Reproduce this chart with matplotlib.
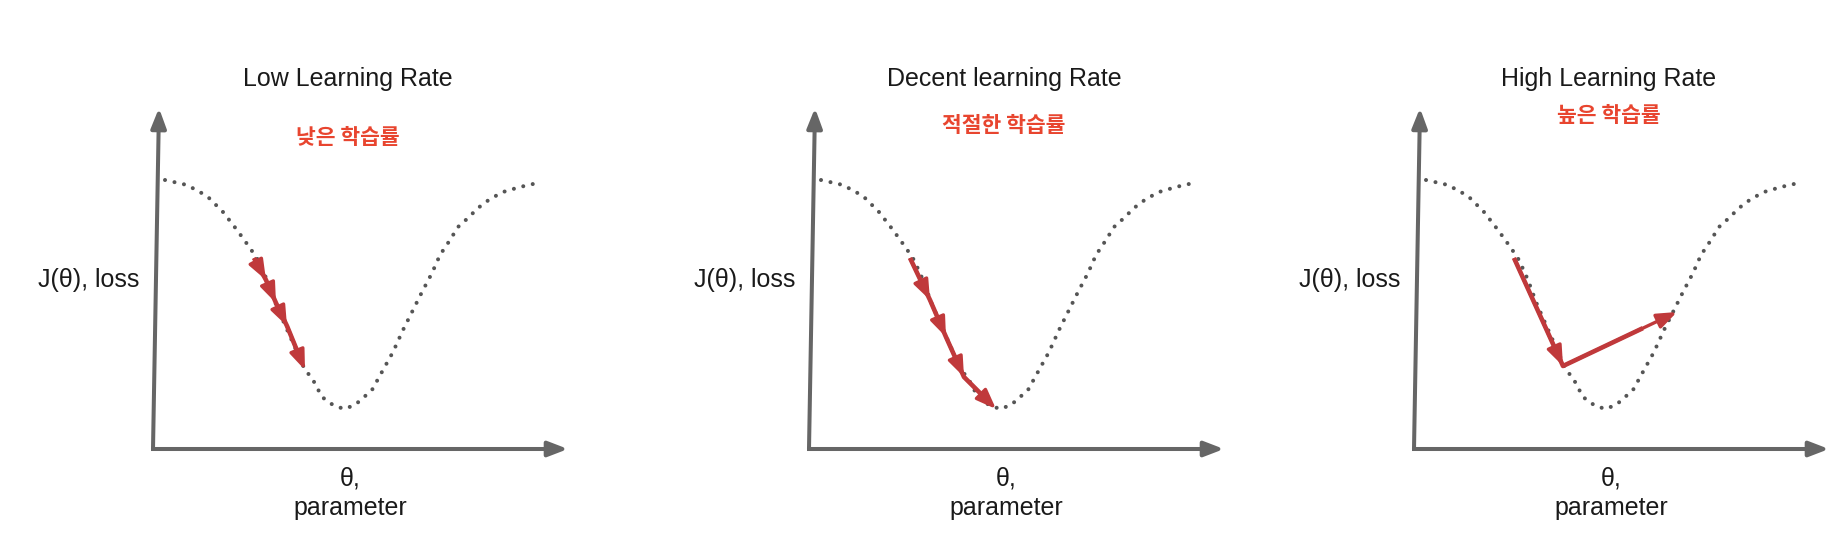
import matplotlib.pyplot as plt
from matplotlib.patches import FancyArrowPatch

# shape of the loss curve, same in every panel (theta right, loss up, from the axis origin)
curve_theta = [12, 34, 54, 70, 84, 97, 105, 114, 122, 132, 152, 159, 169, 180, 191, 202,
               219, 230, 240, 250, 259, 269, 279, 287, 297, 305, 315, 325, 337, 350, 367, 380]
curve_loss = [269, 264, 253, 237, 219, 201, 189, 169, 147, 124, 79, 71, 52, 44, 40, 44,
              59, 79, 97, 119, 137, 157, 176, 194, 209, 222, 231, 241, 250, 257, 262, 265]

titles = ['Low Learning Rate', 'Decent learning Rate', 'High Learning Rate']
titles_ko = ['낮은 학습률', '적절한 학습률', '높은 학습률']
ylabel = 'J(θ), loss'
xlabel = 'θ,\nparameter'

# gradient descent steps
low_theta = [101, 113, 123, 134, 152]
low_loss = [191, 169, 146, 123, 79]
decent_theta = [101, 121, 137, 155, 187]
decent_loss = [191, 149, 112, 72, 40]
high_theta = [100, 149, 263]
high_loss = [191, 83, 137]
steps = [(low_theta, low_loss), (decent_theta, decent_loss), (high_theta, high_loss)]

# layout (pixels)
origin_x = [153, 809, 1414]
origin_y = 101
ko_y = [412, 425, 434]

axis_col = '#666666'
dot_col = '#555555'
red = '#c0393b'
ko_red = '#e8452f'

fig = plt.figure(figsize=(18.46, 5.5), dpi=100)
ax = fig.add_axes([0, 0, 1, 1])
ax.set_xlim(0, 1846)
ax.set_ylim(0, 550)
ax.axis('off')

for i in range(3):
    ox = origin_x[i]
    oy = origin_y

    # axes with arrow heads
    ax.add_patch(FancyArrowPatch((ox, oy), (ox + 6, oy + 341),
                                 arrowstyle='-|>,head_length=12,head_width=4.6',
                                 color=axis_col, lw=2.9, shrinkA=0, shrinkB=0,
                                 mutation_scale=1, capstyle='butt'))
    ax.add_patch(FancyArrowPatch((ox - 2, oy), (ox + 415, oy),
                                 arrowstyle='-|>,head_length=12,head_width=4.6',
                                 color=axis_col, lw=2.9, shrinkA=0, shrinkB=0,
                                 mutation_scale=1, capstyle='butt'))

    # dotted loss curve
    ax.plot([ox + t for t in curve_theta], [oy + l for l in curve_loss],
            color=dot_col, lw=2.9, linestyle=(0, (0.01, 2.4)),
            dash_capstyle='round')

    # steps: solid path plus an arrow head on every step
    st, sl = steps[i]
    ax.plot([ox + t for t in st[:-1]] + [ox + st[-1] - 0.3 * (st[-1] - st[-2])],
            [oy + l for l in sl[:-1]] + [oy + sl[-1] - 0.3 * (sl[-1] - sl[-2])],
            color=red, lw=3.3, solid_capstyle='butt', solid_joinstyle='round', zorder=3)
    for k in range(len(st) - 1):
        ax.add_patch(FancyArrowPatch((ox + st[k], oy + sl[k]),
                                     (ox + st[k + 1], oy + sl[k + 1]),
                                     arrowstyle='-|>,head_length=12,head_width=4.6',
                                     color=red, lw=2.4, shrinkA=0, shrinkB=0,
                                     mutation_scale=1, capstyle='butt', zorder=3))

    # texts
    ax.text(ox + 195, 471, titles[i], ha='center', va='center', fontsize=18,
            family=['Liberation Sans', 'DejaVu Sans'], color='#1a1a1a')
    ax.text(ox + 195, ko_y[i], titles_ko[i], ha='center', va='center', fontsize=15.5,
            family=['Noto Sans CJK KR', 'DejaVu Sans'], fontweight='bold', color=ko_red)
    ax.text(ox - 64, 270, ylabel, ha='center', va='center', fontsize=18,
            family=['Liberation Sans', 'DejaVu Sans'], color='#1a1a1a')
    ax.text(ox + 197, 57, xlabel, ha='center', va='center', fontsize=18,
            family=['Liberation Sans', 'DejaVu Sans'], color='#1a1a1a',
            linespacing=1.3)

fig.savefig('out.png', dpi=100)
